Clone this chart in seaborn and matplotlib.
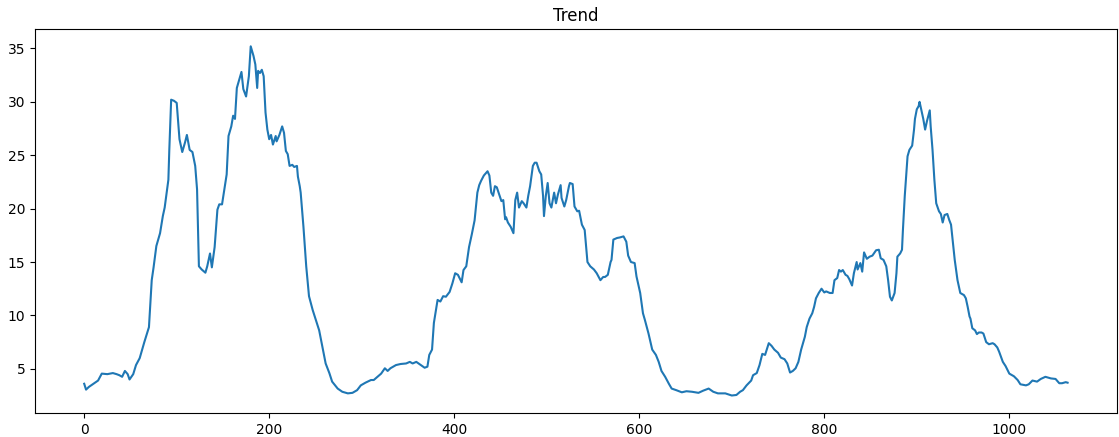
import matplotlib
matplotlib.use("Agg")
import matplotlib.pyplot as plt
import seaborn as sns
import pandas as pd

# values (day index, trend value)
days = [
    0, 2, 5, 10, 15, 19, 25, 31, 35, 38, 41, 44, 47, 49, 53, 56, 60, 65, 70, 73,
    75, 78, 82, 85, 87, 91, 92, 94, 97, 100, 103, 106, 109, 111, 114, 117, 120, 122, 124, 127,
    131, 133, 136, 138, 141, 144, 146, 149, 152, 154, 156, 159, 161, 163, 165, 170, 172, 175, 178, 180,
    183, 185, 187, 188, 190, 192, 194, 196, 198, 200, 202, 204, 207, 208, 211, 214, 216, 218, 220, 222,
    225, 227, 230, 231, 233, 234, 237, 240, 243, 247, 251, 254, 258, 261, 265, 268, 274, 279, 285, 290,
    295, 299, 304, 310, 313, 317, 321, 325, 328, 331, 337, 342, 348, 352, 355, 359, 364, 368, 371, 373,
    376, 378, 382, 385, 388, 391, 395, 398, 401, 404, 408, 410, 413, 416, 419, 422, 425, 427, 429, 432,
    436, 438, 440, 442, 444, 446, 449, 451, 453, 455, 456, 458, 461, 464, 466, 468, 470, 473, 475, 478,
    480, 482, 485, 487, 489, 492, 494, 496, 497, 499, 501, 503, 505, 507, 508, 510, 512, 515, 516, 519,
    521, 524, 525, 528, 530, 533, 535, 538, 541, 544, 547, 551, 554, 558, 561, 563, 566, 569, 570, 572,
    576, 579, 583, 586, 588, 591, 595, 597, 601, 604, 606, 610, 614, 618, 621, 624, 628, 632, 635, 640,
    646, 651, 657, 664, 669, 675, 680, 685, 693, 700, 705, 709, 712, 716, 721, 723, 727, 730, 733, 736,
    740, 743, 746, 750, 753, 757, 760, 763, 766, 769, 772, 775, 779, 781, 784, 787, 789, 791, 794, 797,
    800, 802, 806, 809, 811, 814, 816, 818, 820, 823, 825, 827, 830, 832, 835, 836, 839, 841, 843, 846,
    849, 852, 856, 859, 861, 864, 867, 869, 871, 873, 876, 878, 879, 882, 884, 885, 887, 890, 892, 895,
    897, 898, 900, 902, 903, 905, 907, 909, 911, 914, 915, 917, 919, 921, 924, 926, 928, 930, 933, 935,
    937, 939, 941, 944, 947, 951, 953, 955, 957, 958, 960, 963, 965, 967, 970, 972, 975, 978, 982, 984,
    987, 989, 993, 996, 1000, 1005, 1009, 1012, 1018, 1021, 1025, 1030, 1034, 1039, 1045, 1050, 1054, 1057, 1061, 1063,
]
trend = [
    3.6, 3.05, 3.3, 3.6, 3.9, 4.55, 4.5, 4.6, 4.5, 4.4, 4.25, 4.8, 4.5, 4.0, 4.5, 5.35, 6.0, 7.5, 8.9, 13.3,
    14.5, 16.5, 17.7, 19.3, 20.1, 22.7, 25.5, 30.2, 30.1, 29.9, 26.5, 25.3, 26.2, 26.9, 25.5, 25.3, 24.0, 21.8, 14.6, 14.3,
    14.0, 14.6, 15.8, 14.5, 16.4, 19.9, 20.4, 20.4, 22.1, 23.2, 26.8, 27.7, 28.7, 28.4, 31.3, 32.8, 31.2, 30.5, 32.4, 35.2,
    34.3, 33.5, 31.3, 32.9, 32.7, 33.0, 32.4, 29.0, 27.4, 26.5, 26.9, 26.0, 26.8, 26.3, 26.9, 27.7, 27.1, 25.4, 25.1, 24.0,
    24.1, 23.9, 24.0, 23.0, 22.1, 21.5, 18.3, 14.6, 11.8, 10.5, 9.4, 8.6, 6.8, 5.5, 4.6, 3.8, 3.15, 2.85, 2.7, 2.75,
    3.0, 3.45, 3.7, 3.95, 3.95, 4.25, 4.55, 5.05, 4.8, 5.05, 5.35, 5.45, 5.5, 5.65, 5.5, 5.65, 5.35, 5.1, 5.2, 6.3,
    6.8, 9.3, 11.45, 11.3, 11.8, 11.75, 12.2, 13.0, 13.95, 13.8, 13.1, 14.25, 14.6, 16.4, 17.6, 18.9, 21.5, 22.2, 22.6, 23.1,
    23.5, 23.1, 21.5, 21.2, 22.1, 22.0, 21.2, 20.7, 20.8, 19.0, 19.2, 18.7, 18.3, 17.7, 20.8, 21.5, 20.1, 20.7, 20.5, 20.1,
    21.2, 22.1, 24.0, 24.3, 24.3, 23.5, 23.2, 21.2, 19.3, 21.2, 22.4, 20.5, 20.1, 21.0, 21.5, 20.5, 21.3, 22.2, 21.0, 20.2,
    20.8, 22.1, 22.4, 22.3, 20.2, 19.75, 19.8, 18.5, 18.0, 15.0, 14.6, 14.3, 13.95, 13.3, 13.6, 13.6, 13.8, 15.0, 15.2, 17.1,
    17.25, 17.3, 17.4, 16.9, 15.6, 15.0, 14.9, 13.65, 12.1, 10.2, 9.6, 8.3, 6.8, 6.3, 5.65, 4.8, 4.25, 3.6, 3.15, 3.0,
    2.8, 2.9, 2.85, 2.75, 2.95, 3.15, 2.85, 2.7, 2.7, 2.5, 2.55, 2.85, 3.0, 3.45, 3.9, 4.4, 4.6, 5.35, 6.4, 6.3,
    7.4, 7.15, 6.8, 6.5, 6.05, 5.9, 5.5, 4.65, 4.8, 5.05, 5.65, 6.8, 8.0, 8.9, 9.7, 10.2, 10.8, 11.6, 12.1, 12.5,
    12.15, 12.25, 12.1, 12.1, 13.3, 13.5, 14.25, 14.1, 14.25, 13.8, 13.7, 13.4, 12.8, 13.95, 15.0, 14.3, 14.9, 14.1, 15.9, 15.3,
    15.5, 15.6, 16.1, 16.15, 15.35, 15.2, 14.6, 13.3, 11.75, 11.4, 12.1, 13.95, 15.5, 15.8, 16.15, 18.0, 21.2, 24.9, 25.5, 25.9,
    27.4, 28.4, 29.3, 29.6, 30.0, 29.2, 28.4, 27.4, 28.2, 29.2, 27.7, 25.5, 22.7, 20.5, 19.75, 19.5, 18.7, 19.4, 19.5, 18.95,
    18.5, 16.8, 15.2, 13.3, 12.1, 11.9, 11.6, 10.8, 9.9, 9.7, 8.8, 8.6, 8.25, 8.4, 8.4, 8.3, 7.5, 7.3, 7.4, 7.3,
    7.0, 6.6, 5.65, 5.25, 4.55, 4.3, 3.95, 3.55, 3.45, 3.55, 3.9, 3.8, 4.05, 4.25, 4.1, 4.05, 3.65, 3.65, 3.75, 3.7,
]

df = pd.DataFrame({"day": days, "trend": trend})

fig, ax = plt.subplots(figsize=(11.19, 4.37), dpi=100)
fig.subplots_adjust(left=0.0313, right=0.998, bottom=0.055, top=0.934)

sns.lineplot(data=df, x="day", y="trend", ax=ax, color="#1f77b4", linewidth=1.5)
ax.set_title("Trend")
ax.set_xlabel("")
ax.set_ylabel("")

plt.savefig("out.png", dpi=100)
